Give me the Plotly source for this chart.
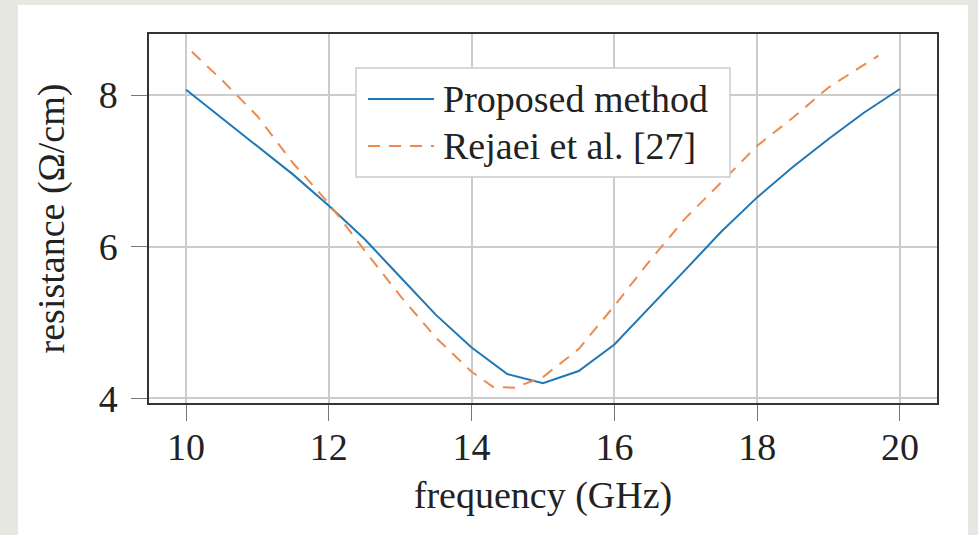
import plotly.graph_objects as go

# Data
freq_proposed = [10.0, 10.5, 11.0, 11.5, 12.0, 12.5, 13.0, 13.5, 14.0, 14.5, 15.0,
                 15.5, 16.0, 16.5, 17.0, 17.5, 18.0, 18.5, 19.0, 19.5, 20.0]
res_proposed = [8.07, 7.70, 7.33, 6.95, 6.54, 6.10, 5.60, 5.10, 4.67, 4.32, 4.20,
                4.36, 4.71, 5.20, 5.70, 6.20, 6.65, 7.05, 7.42, 7.77, 8.08]

freq_rejaei = [10.08, 10.5, 11.0, 11.5, 12.0, 12.5, 13.0, 13.5, 14.0, 14.3, 14.6,
               15.0, 15.5, 16.0, 16.5, 17.0, 17.5, 18.0, 18.5, 19.0, 19.7]
res_rejaei = [8.57, 8.20, 7.72, 7.10, 6.57, 5.95, 5.35, 4.80, 4.35, 4.15, 4.14,
              4.28, 4.65, 5.22, 5.82, 6.38, 6.85, 7.33, 7.70, 8.10, 8.52]

series_names = ["Proposed method", "Rejaei et al. [27]"]
series_colors = ["#1f77b4", "#ef8a4f"]
series_dash = ["solid", "12px,9px"]

x_ticks = [10, 12, 14, 16, 18, 20]
y_ticks = [4, 6, 8]

FONT = "Liberation Serif"
FS = 38

fig = go.Figure()
for fx, fy, nm, col, ds in zip([freq_proposed, freq_rejaei], [res_proposed, res_rejaei],
                               series_names, series_colors, series_dash):
    fig.add_trace(go.Scatter(x=fx, y=fy, mode="lines", name=nm, showlegend=False,
                             line=dict(color=col, width=2, dash=ds)))

# white card on grey page
fig.add_shape(type="rect", xref="paper", yref="paper",
              x0=-0.1662, x1=1.0393, y0=-0.40, y1=1.0786,
              fillcolor="white", line=dict(width=0), layer="below")

# legend box (drawn in paper coordinates)
fig.add_shape(type="rect", xref="paper", yref="paper",
              x0=0.2627, x1=0.7373, y0=0.6125, y1=0.9079,
              fillcolor="white", line=dict(color="#cccccc", width=1.5), layer="above")
row_y = [0.8238, 0.6965]
for yy, nm, col, ds in zip(row_y, series_names, series_colors, series_dash):
    fig.add_shape(type="line", xref="paper", yref="paper",
                  x0=0.2779, x1=0.3617, y0=yy, y1=yy,
                  line=dict(color=col, width=2, dash=ds), layer="above")
    fig.add_annotation(xref="paper", yref="paper", x=0.3705, y=yy,
                       xanchor="left", yanchor="middle", showarrow=False,
                       text=nm, font=dict(family=FONT, size=FS, color="#222222"))

axis_common = dict(showline=True, mirror=True, linecolor="#333333", linewidth=1.5,
                   showgrid=True, gridcolor="#cccccc", gridwidth=1.5,
                   ticks="outside", ticklen=16, tickwidth=1.3, tickcolor="#777777",
                   zeroline=False,
                   tickfont=dict(family=FONT, size=FS, color="#222222"))

fig.update_layout(
    width=978, height=535,
    margin=dict(l=149, r=41, t=34, b=132),
    paper_bgcolor="#e8e8e3", plot_bgcolor="white",
    font=dict(family=FONT, size=FS, color="#222222"),
    xaxis=dict(range=[9.48, 20.52], tickvals=x_ticks,
               title=dict(text="frequency (GHz)", font=dict(family=FONT, size=FS),
                          standoff=14),
               ticklabelstandoff=-6,
               **axis_common),
    yaxis=dict(range=[3.938, 8.805], tickvals=y_ticks,
               title=dict(text="resistance (Ω/cm)", font=dict(family=FONT, size=FS),
                          standoff=22),
               ticklabelstandoff=6,
               **axis_common),
    showlegend=False,
)

fig.write_html("out.html",
               config={"displayModeBar": False},
               post_script="document.body.style.margin='0';"
                           "document.body.style.background='#e8e8e3';")
